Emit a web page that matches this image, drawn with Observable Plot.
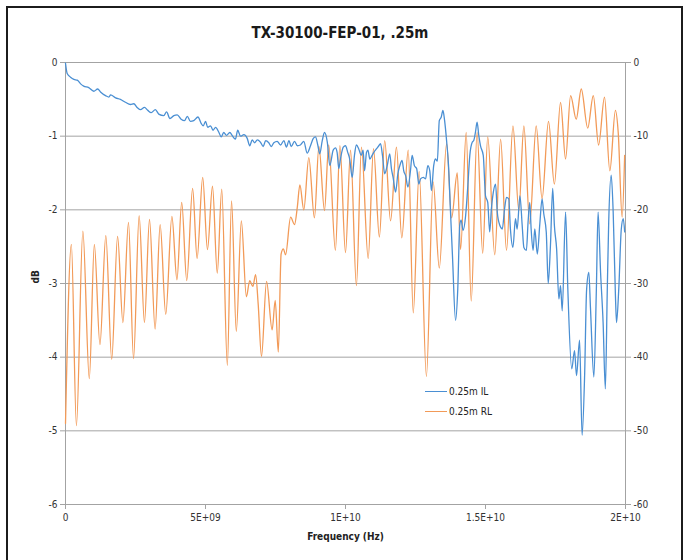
<!DOCTYPE html>
<html>
<head>
<meta charset="utf-8">
<script src="https://cdn.jsdelivr.net/npm/d3@7"></script>
<script src="https://cdn.jsdelivr.net/npm/@observablehq/plot@0.6"></script>
<style>
  body { margin: 0; background: #fff; }
  #wrap { position: relative; width: 686px; height: 560px; overflow: hidden; background: #fff;
          font-family: "Liberation Sans Narrow", "DejaVu Sans Condensed", "Open Sans", sans-serif; }
  #chart { position: absolute; left: 0; top: 0; }
  #frame { position: absolute; left: 6px; top: 6px; width: 677px; height: 620px; border: 2px solid #1c1c1c; box-sizing: border-box; pointer-events: none; }
  #title { position: absolute; left: 0; top: 24px; width: 680px; text-align: center; font-size: 15px; font-weight: bold; color: #1a1a1a; }
  .leg { position: absolute; font-size: 10px; color: #222; display: flex; align-items: center; }
  .leg span.sw { display: inline-block; width: 22px; height: 0; border-top: 1.3px solid; margin-right: 2px; }
</style>
</head>
<body>
<div id="wrap">
  <div id="chart"></div>
  <div id="title">TX-30100-FEP-01, .25m</div>
  <div class="leg" style="left:425px; top:386px;"><span class="sw" style="border-color:#4a8fd3"></span>0.25m IL</div>
  <div class="leg" style="left:425px; top:406px;"><span class="sw" style="border-color:#f29a58"></span>0.25m RL</div>
  <div id="frame"></div>
</div>
<script>
// Insertion loss (left axis, dB) — frequency in GHz
const ilFreqGHz = [0,0.06,0.18,0.30,0.42,0.54,0.65,0.83,1.01,1.15,1.25,1.43,1.55,1.61,1.79,1.96,2.14,2.32,2.44,2.56,2.68,2.82,2.94,3.06,3.21,3.33,3.51,3.61,3.73,3.87,3.99,4.13,4.25,4.35,4.46,4.58,4.73,4.85,4.92,5.00,5.08,5.18,5.27,5.36,5.48,5.56,5.65,5.75,5.87,5.95,6.07,6.15,6.25,6.37,6.49,6.58,6.67,6.75,6.85,6.96,7.06,7.15,7.26,7.35,7.44,7.56,7.68,7.80,7.89,7.98,8.06,8.18,8.28,8.39,8.51,8.63,8.75,8.85,8.93,9.01,9.08,9.17,9.25,9.35,9.44,9.56,9.64,9.70,9.76,9.82,9.92,10.00,10.08,10.15,10.24,10.32,10.39,10.47,10.56,10.63,10.68,10.75,10.80,10.87,10.95,11.01,11.11,11.19,11.25,11.32,11.40,11.49,11.58,11.64,11.70,11.79,11.87,11.94,12.02,12.08,12.15,12.23,12.32,12.38,12.46,12.54,12.62,12.68,12.78,12.86,12.94,13.01,13.07,13.15,13.21,13.28,13.35,13.42,13.48,13.54,13.61,13.68,13.75,13.82,13.93,14.01,14.08,14.13,14.20,14.29,14.37,14.44,14.53,14.58,14.64,14.70,14.76,14.82,14.92,15.00,15.08,15.15,15.21,15.28,15.36,15.42,15.51,15.60,15.68,15.75,15.83,15.89,15.98,16.07,16.13,16.23,16.31,16.37,16.46,16.52,16.58,16.63,16.70,16.76,16.85,16.94,17.02,17.08,17.17,17.24,17.32,17.40,17.46,17.54,17.62,17.68,17.74,17.86,17.94,18.08,18.18,18.25,18.36,18.45,18.54,18.61,18.69,18.75,18.87,18.96,19.02,19.11,19.20,19.28,19.35,19.40,19.49,19.56,19.64,19.68,19.76,19.85,19.92,19.97];
const ilDb = [-0.01,-0.15,-0.20,-0.23,-0.24,-0.29,-0.32,-0.34,-0.39,-0.36,-0.40,-0.45,-0.47,-0.44,-0.48,-0.50,-0.54,-0.57,-0.56,-0.61,-0.64,-0.61,-0.65,-0.68,-0.64,-0.70,-0.72,-0.67,-0.76,-0.72,-0.71,-0.77,-0.79,-0.73,-0.80,-0.79,-0.74,-0.83,-0.86,-0.80,-0.88,-0.86,-0.92,-0.88,-0.95,-1.01,-0.95,-0.99,-0.95,-0.99,-1.04,-0.92,-1.00,-0.98,-1.03,-1.13,-1.05,-1.09,-1.05,-1.08,-1.14,-1.06,-1.09,-1.14,-1.09,-1.07,-1.12,-1.06,-1.15,-1.06,-1.14,-1.07,-1.13,-1.12,-1.07,-1.23,-1.13,-1.03,-1.01,-1.12,-1.24,-1.06,-0.95,-1.08,-1.40,-1.19,-1.16,-1.22,-1.44,-1.31,-1.15,-1.13,-1.22,-1.31,-1.56,-1.26,-1.12,-1.17,-1.26,-1.19,-1.47,-1.22,-1.19,-1.31,-1.26,-1.22,-1.17,-1.13,-1.10,-1.26,-1.51,-1.40,-1.24,-1.44,-1.56,-1.76,-1.51,-1.40,-1.33,-1.47,-1.54,-1.69,-1.47,-1.26,-1.40,-1.44,-1.65,-1.58,-1.56,-1.58,-1.40,-1.47,-1.74,-1.40,-1.31,-1.34,-0.79,-0.74,-0.65,-0.79,-1.06,-1.40,-2.03,-2.62,-3.50,-3.07,-2.21,-2.14,-2.28,-2.08,-1.67,-1.26,-1.08,-1.06,-0.95,-0.81,-0.99,-1.13,-1.26,-1.81,-1.90,-2.30,-1.99,-1.76,-1.65,-2.03,-2.21,-2.26,-1.99,-1.83,-1.85,-2.26,-2.51,-2.12,-2.26,-1.81,-2.21,-2.51,-2.55,-2.17,-1.90,-2.26,-2.55,-2.26,-2.60,-2.19,-1.85,-2.05,-2.30,-3.00,-2.48,-1.71,-2.21,-2.53,-3.21,-3.03,-3.37,-2.03,-3.07,-4.16,-3.91,-4.25,-3.77,-5.06,-4.25,-3.09,-2.85,-3.34,-4.27,-3.07,-2.03,-2.85,-3.53,-4.43,-3.07,-2.17,-1.53,-2.03,-3.16,-3.53,-3.07,-2.26,-2.12,-2.30];

// Return loss (right axis, dB) — frequency in GHz
const rlFreqGHz = [0,0.21,0.39,0.62,0.85,1.03,1.23,1.44,1.65,1.86,2.05,2.25,2.43,2.63,2.82,3.00,3.20,3.38,3.58,3.80,3.98,4.15,4.33,4.54,4.70,4.90,5.07,5.25,5.42,5.58,5.78,5.93,6.10,6.28,6.46,6.58,6.69,6.79,6.88,7.00,7.18,7.38,7.49,7.60,7.70,7.78,7.86,8.04,8.18,8.28,8.37,8.51,8.69,8.89,9.05,9.25,9.40,9.64,9.80,10.00,10.18,10.39,10.57,10.81,11.00,11.21,11.40,11.61,11.82,12.01,12.24,12.42,12.63,12.89,13.13,13.35,13.61,13.79,13.99,14.11,14.31,14.49,14.70,14.90,15.08,15.33,15.54,15.75,15.98,16.19,16.37,16.58,16.81,17.02,17.25,17.46,17.68,17.86,18.04,18.24,18.42,18.65,18.85,19.04,19.25,19.44,19.64,19.74,19.88,19.97];
const rlDb = [-49.0,-24.7,-49.3,-22.9,-42.9,-24.7,-38.3,-23.5,-40.3,-23.6,-35.3,-21.7,-40.2,-20.8,-35.3,-21.3,-36.2,-22.0,-34.2,-20.9,-29.5,-19.0,-29.6,-17.1,-26.6,-15.6,-25.4,-16.8,-28.6,-17.2,-41.1,-18.8,-36.5,-21.5,-31.8,-29.6,-30.4,-28.8,-32.7,-39.9,-29.7,-36.3,-32.3,-39.3,-26.0,-25.3,-26.1,-21.0,-22.0,-19.6,-16.6,-20.0,-12.9,-21.1,-11.4,-20.1,-11.2,-25.5,-11.3,-25.8,-11.9,-30.3,-11.5,-26.6,-11.7,-23.7,-10.6,-21.5,-11.5,-23.8,-11.9,-34.0,-14.8,-42.6,-16.2,-27.9,-11.0,-21.1,-15.0,-25.4,-9.5,-32.4,-9.5,-25.9,-10.1,-26.1,-10.4,-25.5,-8.6,-20.1,-8.6,-21.9,-8.6,-18.5,-8.0,-16.5,-5.4,-13.1,-4.5,-7.7,-3.6,-8.9,-4.5,-11.2,-4.7,-14.7,-6.5,-9.5,-21.0,-12.6];

// Axis ticks
const xTicks = [0, 5e9, 1e10, 1.5e10, 2e10];
const xTickLabels = ["0", "5E+09", "1E+10", "1.5E+10", "2E+10"];
const leftTicks = [0, -1, -2, -3, -4, -5, -6];
const rightTickLabels = ["0", "-10", "-20", "-30", "-40", "-50", "-60"];

const il = ilFreqGHz.map((f, i) => ({f: f * 1e9, v: ilDb[i]}));
const rl = rlFreqGHz.map((f, i) => ({f: f * 1e9, v: rlDb[i] / 10}));

const grid = "#a3a3a3";
const chart = Plot.plot({
  width: 686,
  height: 560,
  marginTop: 62,
  marginBottom: 56,
  marginLeft: 65,
  marginRight: 61,
  style: {background: "transparent", fontFamily: "'Liberation Sans Narrow', 'DejaVu Sans Condensed', 'Open Sans', sans-serif", fontSize: "10px", color: "#333"},
  x: {domain: [0, 2e10]},
  y: {domain: [-6, 0]},
  marks: [
    Plot.ruleY(leftTicks, {stroke: grid, strokeWidth: 1}),
    Plot.ruleX([0, 2e10], {stroke: grid, strokeWidth: 1}),
    Plot.axisY({ticks: leftTicks, tickFormat: d => String(d), tickSize: 5, tickPadding: 3, stroke: grid, label: null, anchor: "left"}),
    Plot.axisY({ticks: leftTicks, tickFormat: d => rightTickLabels[leftTicks.indexOf(d)], tickSize: 5, tickPadding: 3, stroke: grid, label: null, anchor: "right"}),
    Plot.axisX({ticks: xTicks, tickFormat: d => xTickLabels[xTicks.indexOf(d)], tickSize: 5, tickPadding: 4, stroke: grid, label: null}),
    Plot.line(rl, {x: "f", y: "v", stroke: "#f29a58", strokeWidth: 1.3, curve: "monotone-x"}),
    Plot.line(il, {x: "f", y: "v", stroke: "#4a8fd3", strokeWidth: 1.3, curve: "monotone-x"}),
    Plot.text(["dB"], {frameAnchor: "left", dx: -30, rotate: -90, fontWeight: "bold", fontSize: 10, fill: "#222"}),
    Plot.text(["Frequency (Hz)"], {frameAnchor: "bottom", dy: 35, fontWeight: "bold", fontSize: 10, fill: "#222"})
  ]
});
document.getElementById("chart").appendChild(chart);
</script>
</body>
</html>
